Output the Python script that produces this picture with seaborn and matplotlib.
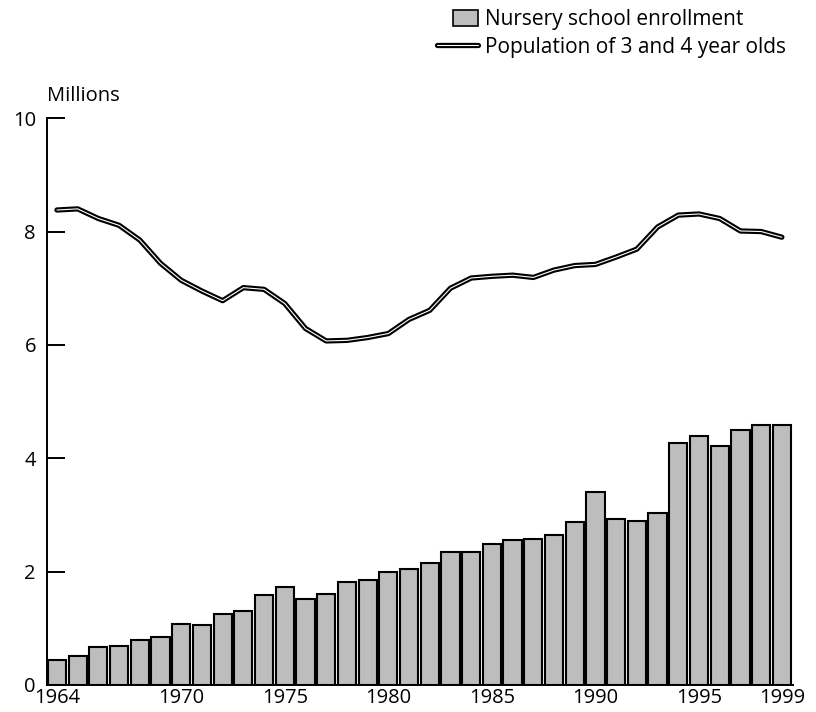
import numpy as np
import pandas as pd
import seaborn as sns
import matplotlib.pyplot as plt
from matplotlib.patches import Patch, Rectangle
from matplotlib.lines import Line2D
from matplotlib.legend_handler import HandlerPatch

# Data (millions)
years = list(range(1964, 2000))
enrollment = [0.44, 0.51, 0.67, 0.69, 0.79, 0.85, 1.08, 1.05, 1.26, 1.31,
              1.59, 1.73, 1.52, 1.60, 1.82, 1.86, 1.99, 2.05, 2.15, 2.35,
              2.35, 2.49, 2.55, 2.58, 2.65, 2.87, 3.40, 2.93, 2.90, 3.03,
              4.27, 4.40, 4.22, 4.50, 4.59, 4.59]
population = [8.38, 8.40, 8.23, 8.11, 7.85, 7.44, 7.14, 6.95, 6.78, 7.01,
              6.98, 6.73, 6.29, 6.07, 6.08, 6.13, 6.20, 6.45, 6.61, 7.00,
              7.18, 7.21, 7.23, 7.19, 7.32, 7.40, 7.42, 7.55, 7.69, 8.08,
              8.29, 8.31, 8.23, 8.01, 8.00, 7.90]
tick_years = [1964, 1970, 1975, 1980, 1985, 1990, 1995, 1999]

df = pd.DataFrame({"year": years, "enroll": enrollment, "pop": population})

sns.set_style("white")
plt.rcParams['font.family'] = ['Open Sans', 'DejaVu Sans']
plt.rcParams['text.color'] = 'black'
plt.rcParams['xtick.color'] = 'black'
plt.rcParams['ytick.color'] = 'black'

fig = plt.figure(figsize=(8.16, 7.12), dpi=100)
ax = fig.add_axes([0.0576, 0.038, 0.914, 0.796])

bar_color = "#bdbdbd"
sns.barplot(data=df, x="year", y="enroll", native_scale=True, width=0.88,
            color=bar_color, edgecolor="black", linewidth=1.5, saturation=1,
            ax=ax)

# double line: black casing with white core
sns.lineplot(data=df, x="year", y="pop", color="black", linewidth=3.8, ax=ax)
sns.lineplot(data=df, x="year", y="pop", color="white", linewidth=0.8, ax=ax)

ax.set_xlim(1963.52, 1999.53)
ax.set_ylim(0, 10)
ax.set_xlabel("")
ax.set_ylabel("")
ax.set_yticks([0, 2, 4, 6, 8, 10])
ax.set_yticklabels(["0", "2", "4", "6", "8", "10"])
ax.set_xticks(tick_years)
ax.set_xticklabels([str(y) for y in tick_years])
ax.tick_params(axis="y", direction="in", length=13, width=1.4, pad=8,
               labelsize=14.5, left=True, colors="black")
ax.tick_params(axis="x", length=0, pad=2, labelsize=14.5, colors="black")

for s in ["top", "right"]:
    ax.spines[s].set_visible(False)
for s in ["left", "bottom"]:
    ax.spines[s].set_color("black")
    ax.spines[s].set_linewidth(1.4)

ax.text(0.0, 1.022, "Millions", transform=ax.transAxes, fontsize=14.5,
        ha="left", va="bottom", color="black")


def short_rect(legend, orig_handle, xdescent, ydescent, width, height, fontsize):
    # narrower swatch sitting at the right end of the handle box
    return Rectangle((-xdescent + width * 0.4, -ydescent - height * 0.05),
                     width * 0.6, height * 1.1)


handles = [Patch(facecolor=bar_color, edgecolor="black", linewidth=1.2),
           (Line2D([], [], color="black", linewidth=3.8),
            Line2D([], [], color="white", linewidth=0.8))]
labels = ["Nursery school enrollment", "Population of 3 and 4 year olds"]
leg = fig.legend(handles, labels, loc="upper right",
                 bbox_to_anchor=(794 / 816, 1 - 1 / 712), frameon=False,
                 fontsize=15, handlelength=2.0, handletextpad=0.3,
                 labelspacing=0.3, borderaxespad=0,
                 handler_map={Patch: HandlerPatch(patch_func=short_rect)})
for t in leg.get_texts():
    t.set_color("black")

fig.savefig("out.png", dpi=100)
